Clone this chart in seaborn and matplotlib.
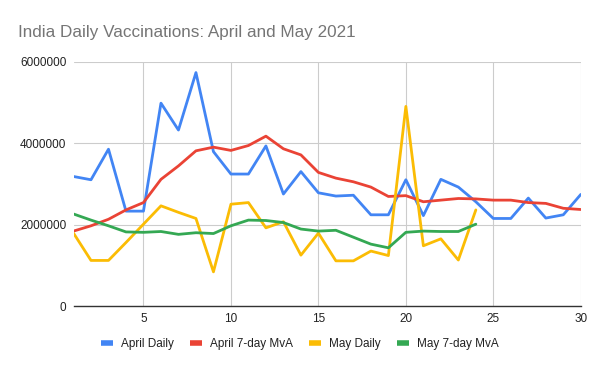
import numpy as np
import pandas as pd
import matplotlib
matplotlib.use("Agg")
import matplotlib.pyplot as plt
import seaborn as sns

# day of month
days_april = list(range(1, 31))
days_may = list(range(1, 25))

april_daily = [3180000, 3100000, 3850000, 2330000, 2330000, 4980000, 4320000, 5730000, 3790000, 3240000,
               3240000, 3930000, 2750000, 3300000, 2780000, 2700000, 2720000, 2240000, 2240000, 3100000,
               2220000, 3110000, 2920000, 2560000, 2150000, 2150000, 2650000, 2160000, 2240000, 2740000]
april_mva = [1840000, 1970000, 2130000, 2360000, 2540000, 3110000, 3440000, 3810000, 3900000, 3820000,
             3940000, 4170000, 3860000, 3710000, 3280000, 3140000, 3050000, 2920000, 2690000, 2710000,
             2560000, 2600000, 2640000, 2630000, 2600000, 2600000, 2540000, 2520000, 2400000, 2370000]
may_daily = [1790000, 1120000, 1120000, 1560000, 2010000, 2460000, 2300000, 2150000, 840000, 2500000,
             2540000, 1920000, 2070000, 1250000, 1790000, 1110000, 1110000, 1350000, 1240000, 4900000,
             1480000, 1650000, 1130000, 2360000]
may_mva = [2260000, 2110000, 1970000, 1820000, 1810000, 1830000, 1760000, 1800000, 1780000, 1970000,
           2110000, 2100000, 2050000, 1890000, 1840000, 1860000, 1690000, 1520000, 1430000, 1810000,
           1840000, 1830000, 1830000, 2010000]

series_names = ["April Daily", "April 7-day MvA", "May Daily", "May 7-day MvA"]
colors = ["#4285F4", "#EA4335", "#FBBC04", "#34A853"]

df = pd.concat([
    pd.DataFrame({"day": days_april, "value": april_daily, "series": series_names[0]}),
    pd.DataFrame({"day": days_april, "value": april_mva, "series": series_names[1]}),
    pd.DataFrame({"day": days_may, "value": may_daily, "series": series_names[2]}),
    pd.DataFrame({"day": days_may, "value": may_mva, "series": series_names[3]}),
])

sns.set_style("white")
plt.rcParams["font.family"] = ["Liberation Sans", "DejaVu Sans"]

fig = plt.figure(figsize=(6, 3.71), dpi=100)
ax = fig.add_axes([0.1225, 0.175, 0.8455, 0.659])

sns.lineplot(data=df, x="day", y="value", hue="series", hue_order=series_names,
             palette=colors, linewidth=2, ax=ax, legend=False)

ax.set_xlim(1, 30)
ax.set_ylim(0, 6000000)
ax.set_xticks([5, 10, 15, 20, 25, 30])
ax.set_yticks([0, 2000000, 4000000, 6000000])
ax.yaxis.set_major_formatter(matplotlib.ticker.FuncFormatter(lambda v, p: f"{int(v)}"))
ax.grid(True, color="#cccccc", linewidth=0.8)
ax.set_axisbelow(True)
for s in ["left", "right", "top"]:
    ax.spines[s].set_visible(False)
ax.spines["bottom"].set_color("#333333")
ax.spines["bottom"].set_linewidth(1)
ax.tick_params(length=0, labelsize=8.5, colors="#222222", pad=5)
ax.set_xlabel("")
ax.set_ylabel("")

fig.text(0.03, 0.913, "India Daily Vaccinations: April and May 2021", fontsize=12.3,
         color="#757575", va="center", ha="left")

handles = [plt.Line2D([0], [0], color=c, linewidth=4, solid_capstyle="butt") for c in colors]
fig.legend(handles, series_names, loc="center", bbox_to_anchor=(0.5, 0.072), ncol=4,
           frameon=False, fontsize=8.5, handlelength=1.0, handletextpad=0.7, columnspacing=1.35,
           labelcolor="#222222")

fig.savefig("out.png", dpi=100)
